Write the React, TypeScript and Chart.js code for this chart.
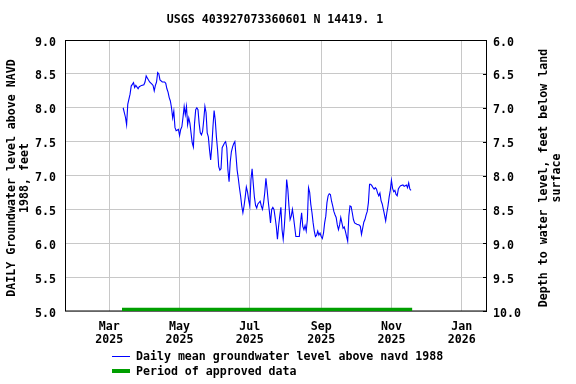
import React, { useEffect, useRef } from "react";
import { Chart, registerables } from "chart.js";

Chart.register(...registerables);

// ---- data ----
const TITLE = "USGS 403927073360601 N 14419. 1";
const LEFT_TITLE = ["DAILY Groundwater level above NAVD", "1988, feet"];
const RIGHT_TITLE = ["Depth to water level, feet below land", "surface"];
const LEGEND_LINE = "Daily mean groundwater level above navd 1988";
const LEGEND_APPROVED = "Period of approved data";

// days since 2025-03-01
const dayOffsets = [
  12, 14, 15, 16, 18, 19, 21, 22, 23, 25, 26, 28, 30, 31, 32, 33, 35, 37, 38, 39,
  40, 41, 42, 43, 44, 46, 48, 49, 50, 51, 52, 53, 54, 55, 56, 57, 58, 60, 61, 62,
  63, 64, 65, 66, 67, 68, 69, 70, 72, 73, 74, 75, 76, 77, 78, 79, 80, 81, 82, 83,
  84, 85, 86, 87, 88, 89, 90, 91, 92, 93, 94, 95, 96, 97, 98, 100, 101, 102, 103, 104,
  105, 106, 107, 108, 109, 110, 111, 112, 113, 114, 115, 116, 117, 118, 119, 120, 121, 122, 123, 124,
  125, 126, 127, 128, 129, 131, 132, 133, 134, 135, 136, 137, 138, 139, 140, 141, 142, 143, 144, 145,
  146, 147, 148, 149, 150, 151, 152, 153, 154, 155, 156, 157, 158, 159, 160, 161, 162, 164, 165, 166,
  167, 168, 169, 170, 171, 172, 173, 174, 175, 176, 177, 178, 179, 180, 181, 182, 183, 184, 185, 186,
  187, 188, 189, 190, 191, 192, 193, 194, 195, 196, 197, 198, 199, 200, 201, 202, 203, 204, 205, 206,
  207, 208, 209, 210, 211, 212, 213, 215, 217, 218, 219, 220, 221, 222, 223, 224, 225, 226, 227, 228,
  229, 230, 231, 232, 233, 234, 235, 236, 237, 238, 239, 240, 241, 242, 243, 244, 245, 246, 247, 248,
  249, 250, 251, 252, 253, 255, 256, 257, 258, 259, 260, 261, 262,
];

const levels = [
  8.0, 7.86, 7.75, 8.05, 8.2, 8.32, 8.37, 8.3, 8.33, 8.28, 8.31, 8.33, 8.34, 8.38, 8.47, 8.44, 8.38, 8.35, 8.33, 8.25,
  8.33, 8.38, 8.52, 8.5, 8.41, 8.38, 8.38, 8.36, 8.28, 8.23, 8.15, 8.1, 8.0, 7.85, 7.95, 7.71, 7.66, 7.68, 7.59, 7.68,
  7.72, 7.86, 8.02, 7.9, 8.02, 7.75, 7.85, 7.77, 7.48, 7.42, 7.77, 7.97, 8.0, 7.97, 7.77, 7.63, 7.6, 7.65, 7.82, 8.02,
  7.93, 7.63, 7.57, 7.38, 7.23, 7.43, 7.72, 7.96, 7.82, 7.57, 7.38, 7.13, 7.08, 7.1, 7.41, 7.48, 7.5, 7.41, 7.08, 6.91,
  7.2, 7.35, 7.42, 7.47, 7.5, 7.3, 7.08, 6.96, 6.82, 6.7, 6.55, 6.45, 6.55, 6.68, 6.83, 6.76, 6.64, 6.55, 6.94, 7.1,
  6.88, 6.68, 6.56, 6.52, 6.58, 6.62, 6.55, 6.5, 6.6, 6.75, 6.96, 6.8, 6.62, 6.47, 6.3, 6.5, 6.53, 6.5, 6.38, 6.25,
  6.06, 6.25, 6.4, 6.53, 6.2, 6.06, 6.25, 6.53, 6.94, 6.8, 6.55, 6.35, 6.4, 6.5, 6.38, 6.24, 6.1, 6.1, 6.1, 6.3,
  6.45, 6.25, 6.2, 6.26, 6.18, 6.35, 6.82, 6.75, 6.57, 6.45, 6.3, 6.18, 6.1, 6.12, 6.18, 6.12, 6.15, 6.1, 6.07, 6.15,
  6.3, 6.4, 6.6, 6.7, 6.73, 6.72, 6.62, 6.55, 6.47, 6.42, 6.38, 6.27, 6.2, 6.27, 6.38, 6.3, 6.22, 6.24, 6.18, 6.1,
  6.03, 6.4, 6.55, 6.54, 6.45, 6.35, 6.3, 6.28, 6.27, 6.25, 6.13, 6.22, 6.31, 6.35, 6.42, 6.47, 6.6, 6.87, 6.87, 6.85,
  6.82, 6.8, 6.82, 6.8, 6.74, 6.7, 6.74, 6.63, 6.58, 6.5, 6.42, 6.33, 6.45, 6.55, 6.68, 6.78, 6.93, 6.81, 6.76, 6.78,
  6.72, 6.7, 6.8, 6.83, 6.85, 6.86, 6.84, 6.85, 6.86, 6.82, 6.89, 6.8, 6.78,
];

const approvedDays = [11, 263];
const approvedLevel = [5.02, 5.02];

const monthTicks = [0, 61, 122, 184, 245, 306];
const monthLabels = [
  ["Mar", "2025"],
  ["May", "2025"],
  ["Jul", "2025"],
  ["Sep", "2025"],
  ["Nov", "2025"],
  ["Jan", "2026"],
];
const X_RANGE = [-38.5, 328];
const LEVEL_RANGE = [5, 9];
const DEPTH_RANGE = [6, 10];
const TICK_STEP = 0.5;

// ---- styles ----
const FONT_FAMILY = "'DejaVu Sans Mono', monospace";
const FONT_SIZE = 11.6;
const FONT_CSS = `bold ${FONT_SIZE}px ${FONT_FAMILY}`;
const tickFont = { family: FONT_FAMILY, size: FONT_SIZE, weight: "bold" as const, lineHeight: 13 / FONT_SIZE };
const GRID = "#c8c8c8";
const BLUE = "#0000ff";
const GREEN = "#009f00";

const decor = {
  id: "decor",
  beforeDatasetsDraw(chart: any) {
    const { ctx, chartArea: a } = chart;
    ctx.save();
    ctx.strokeStyle = "#000";
    ctx.lineWidth = 1;
    ctx.strokeRect(a.left + 0.5, a.top + 0.5, a.right - a.left - 1, a.bottom - a.top - 0.5);
    ctx.restore();
  },
  afterDraw(chart: any) {
    const { ctx, chartArea: a, scales } = chart;
    ctx.save();
    ctx.fillStyle = "#000";
    ctx.font = FONT_CSS;
    ctx.textBaseline = "middle";

    // title
    ctx.textAlign = "center";
    ctx.fillText(TITLE, (a.left + a.right) / 2 - 1, 20);

    // y tick labels (positioned by the scales)
    ctx.textAlign = "right";
    scales.y.ticks.forEach((t: any) => {
      ctx.fillText(Number(t.value).toFixed(1), a.left - 9, scales.y.getPixelForValue(t.value) + 2.5);
    });
    ctx.textAlign = "left";
    scales.y2.ticks.forEach((t: any) => {
      ctx.fillText(Number(t.value).toFixed(1), a.right + 6, scales.y2.getPixelForValue(t.value) + 2.5);
    });

    // axis titles
    const cy = 178;
    [11.5, 24.5].forEach((x, i) => {
      ctx.save();
      ctx.translate(x, cy);
      ctx.rotate(-Math.PI / 2);
      ctx.textAlign = "center";
      ctx.fillText(LEFT_TITLE[i], 0, 0);
      ctx.restore();
    });
    [543.5, 557].forEach((x, i) => {
      ctx.save();
      ctx.translate(x, cy);
      ctx.rotate(-Math.PI / 2);
      ctx.textAlign = "center";
      ctx.fillText(RIGHT_TITLE[i], 0, 0);
      ctx.restore();
    });

    // inner tick marks on right axis
    ctx.strokeStyle = "#000";
    ctx.lineWidth = 1;
    scales.y2.ticks.forEach((t: any) => {
      const py = Math.round(scales.y2.getPixelForValue(t.value)) + 0.5;
      ctx.beginPath();
      ctx.moveTo(a.right - 4, py);
      ctx.lineTo(a.right, py);
      ctx.stroke();
    });

    // legend
    ctx.textAlign = "left";
    ctx.strokeStyle = BLUE;
    ctx.lineWidth = 1;
    ctx.beginPath();
    ctx.moveTo(112, 356.5);
    ctx.lineTo(130, 356.5);
    ctx.stroke();
    ctx.fillText(LEGEND_LINE, 136, 357);

    ctx.strokeStyle = GREEN;
    ctx.lineWidth = 4;
    ctx.beginPath();
    ctx.moveTo(112, 371);
    ctx.lineTo(130, 371);
    ctx.stroke();
    ctx.fillText(LEGEND_APPROVED, 136, 372);
    ctx.restore();
  },
};

export default function App() {
  const ref = useRef<HTMLCanvasElement | null>(null);

  useEffect(() => {
    if (!ref.current) return;
    const chart = new Chart(ref.current, {
      type: "line",
      data: {
        datasets: [
          {
            label: LEGEND_LINE,
            data: dayOffsets.map((d, i) => ({ x: d, y: levels[i] })),
            borderColor: BLUE,
            borderWidth: 1.1,
            pointRadius: 0,
            tension: 0,
            fill: false,
          },
          {
            label: LEGEND_APPROVED,
            data: approvedDays.map((d, i) => ({ x: d, y: approvedLevel[i] })),
            borderColor: GREEN,
            borderWidth: 4,
            borderCapStyle: "butt",
            pointRadius: 0,
            fill: false,
          },
        ],
      },
      options: {
        animation: false,
        responsive: false,
        layout: { padding: { top: 40, left: 0, right: 0, bottom: 0 } },
        plugins: {
          legend: { display: false },
          title: { display: false },
          tooltip: { enabled: false },
        },
        scales: {
          x: {
            type: "linear",
            min: X_RANGE[0],
            max: X_RANGE[1],
            afterBuildTicks: (s: any) => {
              s.ticks = monthTicks.map((v) => ({ value: v }));
            },
            afterFit: (s: any) => {
              s.height = 73;
            },
            ticks: {
              autoSkip: false,
              maxRotation: 0,
              padding: 9,
              color: "#000",
              font: tickFont,
              callback: (v: any) => {
                const i = monthTicks.indexOf(Number(v));
                return i >= 0 ? monthLabels[i] : "";
              },
            },
            grid: { color: GRID, drawTicks: false },
            border: { display: false },
          },
          y: {
            position: "left",
            min: LEVEL_RANGE[0],
            max: LEVEL_RANGE[1],
            afterFit: (s: any) => {
              s.width = 65;
            },
            ticks: { stepSize: TICK_STEP, display: false },
            grid: { color: GRID, drawTicks: false },
            border: { display: false },
          },
          y2: {
            position: "right",
            min: DEPTH_RANGE[0],
            max: DEPTH_RANGE[1],
            reverse: true,
            afterFit: (s: any) => {
              s.width = 89;
            },
            ticks: { stepSize: TICK_STEP, display: false },
            grid: { drawOnChartArea: false, drawTicks: false },
            border: { display: false },
          },
        },
      },
      plugins: [decor],
    } as any);
    return () => chart.destroy();
  }, []);

  return (
    <div style={{ position: "absolute", left: 0, top: 0, width: 576, height: 384, background: "#fff" }}>
      <canvas ref={ref} width={576} height={384} style={{ display: "block" }} />
    </div>
  );
}
